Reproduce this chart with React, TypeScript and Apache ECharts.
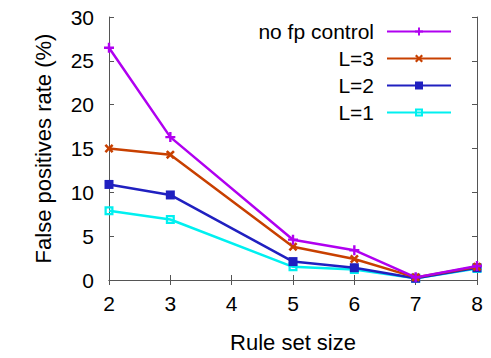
import React, { useEffect, useRef } from "react";
import * as echarts from "echarts";

const xValues = [2, 3, 5, 6, 7, 8];
const seriesNames = ["no fp control", "L=3", "L=2", "L=1"];
const noFp = [26.5, 16.3, 4.6, 3.4, 0.3, 1.6];
const l3 = [15.0, 14.3, 3.8, 2.4, 0.3, 1.5];
const l2 = [10.9, 9.7, 2.1, 1.4, 0.2, 1.4];
const l1 = [7.9, 6.9, 1.5, 1.2, 0.2, 1.3];
const colors = ["#B000F0", "#C84000", "#2020C0", "#00F0F0"];

const PLUS = "path://M3.8,0H6.2V3.8H10V6.2H6.2V10H3.8V6.2H0V3.8H3.8Z";
const CROSS = "path://M0,2L2,0L5,3L8,0L10,2L7,5L10,8L8,10L5,7L2,10L0,8L3,5Z";
const OPENSQ = "path://M0,0H10V10H0Z M2.5,2.5V7.5H7.5V2.5Z";
const symbols = [PLUS, CROSS, "rect", OPENSQ];
const sizes = [10, 9, 9, 9];

export default function App() {
  const ref = useRef<HTMLDivElement>(null);
  useEffect(() => {
    const chart = echarts.init(ref.current!, undefined, { renderer: "svg" });
    const font = "Liberation Sans, Arial, sans-serif";
    const data = [noFp, l3, l2, l1];
    const axisLine = { show: true, lineStyle: { color: "#555", width: 1 } };
    const tick = { inside: true, length: 5, lineStyle: { color: "#555" } };
    chart.setOption({
      animation: false,
      backgroundColor: "#fff",
      textStyle: { fontFamily: font },
      grid: { left: 109, right: 14, top: 17, bottom: 78 },
      legend: {
        orient: "vertical",
        align: "right",
        right: 39,
        top: 21,
        padding: 0,
        itemWidth: 64,
        itemHeight: 10,
        itemGap: 6,
        formatter: (name: string) => `${name}{g|}`,
        textStyle: {
          fontSize: 21,
          color: "#000",
          fontFamily: font,
          rich: { g: { width: 8 } },
        },
        data: seriesNames,
      },
      xAxis: [
        {
          type: "value",
          min: 2,
          max: 8,
          interval: 1,
          name: "Rule set size",
          nameLocation: "middle",
          nameGap: 51,
          nameTextStyle: { fontSize: 22, color: "#000", fontFamily: font },
          axisLine,
          axisTick: tick,
          axisLabel: { fontSize: 21, color: "#000", margin: 13, fontFamily: font },
          splitLine: { show: false },
        },
        {
          type: "value",
          position: "top",
          min: 2,
          max: 8,
          interval: 1,
          axisLine,
          axisTick: tick,
          axisLabel: { show: false },
          splitLine: { show: false },
        },
      ],
      yAxis: [
        {
          type: "value",
          min: 0,
          max: 30,
          interval: 5,
          name: "False positives rate (%)",
          nameLocation: "middle",
          nameGap: 55,
          nameTextStyle: { fontSize: 22, color: "#000", fontFamily: font },
          axisLine,
          axisTick: tick,
          axisLabel: { fontSize: 21, color: "#000", margin: 15, fontFamily: font },
          splitLine: { show: false },
        },
        {
          type: "value",
          position: "right",
          min: 0,
          max: 30,
          interval: 5,
          axisLine,
          axisTick: tick,
          axisLabel: { show: false },
          splitLine: { show: false },
        },
      ],
      series: seriesNames.map((name, i) => ({
        name,
        type: "line",
        data: xValues.map((x, j) => [x, data[i][j]]),
        symbol: symbols[i],
        symbolSize: sizes[i],
        showAllSymbol: true,
        lineStyle: { color: colors[i], width: 2.5 },
        itemStyle: { color: colors[i] },
        emphasis: { disabled: true },
        z: 10 - i,
      })),
    });
    return () => chart.dispose();
  }, []);
  return <div ref={ref} style={{ width: 491, height: 358, position: "absolute", left: 0, top: 0 }} />;
}
